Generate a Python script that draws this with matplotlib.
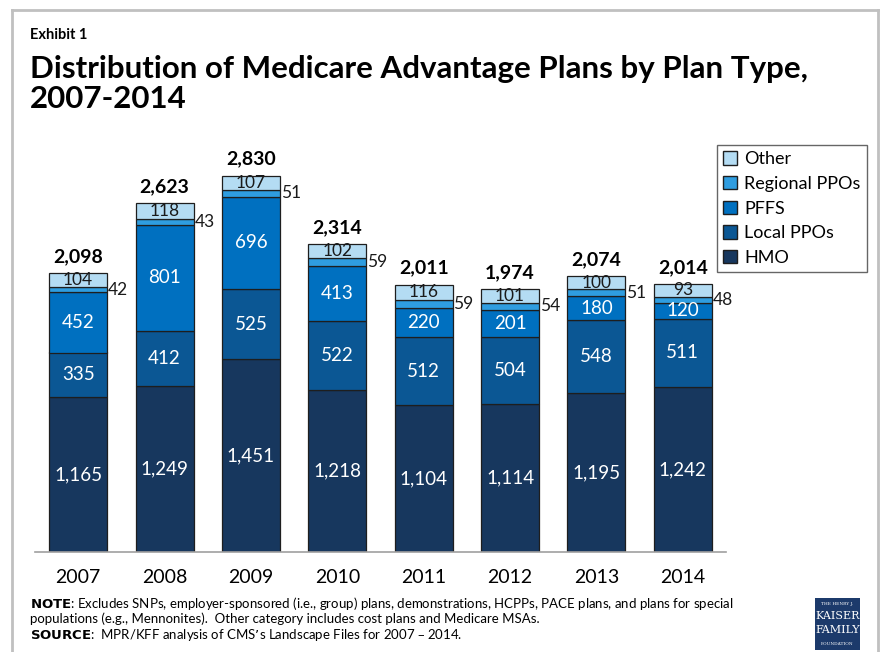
import matplotlib.pyplot as plt
from matplotlib.patches import Rectangle, Patch

plt.rcParams['font.family'] = ['Lato', 'DejaVu Sans']

years = ['2007', '2008', '2009', '2010', '2011', '2012', '2013', '2014']
hmo = [1165, 1249, 1451, 1218, 1104, 1114, 1195, 1242]
local_ppo = [335, 412, 525, 522, 512, 504, 548, 511]
pffs = [452, 801, 696, 413, 220, 201, 180, 120]
regional_ppo = [42, 43, 51, 59, 59, 54, 51, 48]
other = [104, 118, 107, 102, 116, 101, 100, 93]
totals = [2098, 2623, 2830, 2314, 2011, 1974, 2074, 2014]

series = [
    ('HMO', hmo, '#17375e'),
    ('Local PPOs', local_ppo, '#0b5794'),
    ('PFFS', pffs, '#0070c0'),
    ('Regional PPOs', regional_ppo, '#2f9de0'),
    ('Other', other, '#b4dcf3'),
]

W, H = 881, 652
fig = plt.figure(figsize=(W / 100, H / 100), dpi=100)

# slide frame
fig.add_artist(plt.Line2D([12 / W, 878 / W], [1 - 10 / H, 1 - 10 / H], color='#c0c0c0', lw=2))
fig.add_artist(plt.Line2D([12 / W, 12 / W], [0, 1 - 10 / H], color='#c0c0c0', lw=2))
fig.add_artist(plt.Line2D([878 / W, 878 / W], [0, 1 - 10 / H], color='#c0c0c0', lw=2))

fig.text(30 / W, 1 - 35 / H, 'Exhibit 1', fontsize=10.5, fontweight='bold', va='center')
fig.text(30 / W, 1 - 84 / H, 'Distribution of Medicare Advantage Plans by Plan Type,\n2007-2014',
         fontsize=22.5, fontweight='bold', va='center', linespacing=1.12)

ax = fig.add_axes([35 / W, 1 - 552 / H, (726 - 35) / W, (552 - 140) / H])
ax.set_xlim(-0.5, 7.5)
ax.set_ylim(0, 412 / 0.133)
for side in ['top', 'right', 'left']:
    ax.spines[side].set_visible(False)
ax.spines['bottom'].set_color('#a0a0a0')
ax.spines['bottom'].set_linewidth(1.2)
ax.set_yticks([])
ax.tick_params(axis='x', length=0, pad=12, labelsize=14)

x = list(range(len(years)))
bottom = [0] * len(years)
for name, vals, color in series:
    ax.bar(x, vals, width=0.672, bottom=bottom, color=color, edgecolor='#1e1e1e', linewidth=0.9)
    for i, v in enumerate(vals):
        mid = bottom[i] + v / 2
        if name == 'Regional PPOs':
            ax.text(i + 0.345, mid, f'{v:,}', ha='left', va='center', fontsize=12.5, color='#1a1a1a')
        elif name == 'Other':
            ax.text(i, mid, f'{v:,}', ha='center', va='center', fontsize=12.5, color='#1a1a1a')
        else:
            ax.text(i, mid, f'{v:,}', ha='center', va='center', fontsize=13.5, color='white')
    bottom = [b + v for b, v in zip(bottom, vals)]

for i, t in enumerate(totals):
    ax.text(i, t + 60, f'{t:,}', ha='center', va='bottom', fontsize=14, fontweight='bold')

ax.set_xticks(x)
ax.set_xticklabels(years)

handles = [Patch(facecolor=c, edgecolor='#1e1e1e', label=n) for n, _, c in reversed(series)]
leg = fig.legend(handles=handles, loc='upper left', bbox_to_anchor=(717 / W, 1 - 145 / H),
                 frameon=True, fancybox=False, edgecolor='#404040', fontsize=13,
                 handlelength=0.75, handleheight=0.75, handletextpad=0.4, labelspacing=0.48,
                 borderpad=0.35, borderaxespad=0)
leg.get_frame().set_linewidth(1.0)

fig.text(30 / W, 1 - 603 / H,
         r'$\bf{NOTE}$: Excludes SNPs, employer-sponsored (i.e., group) plans, demonstrations, HCPPs, PACE plans, and plans for special',
         fontsize=9.5, va='center')
fig.text(30 / W, 1 - 619 / H,
         'populations (e.g., Mennonites).  Other category includes cost plans and Medicare MSAs.',
         fontsize=9.5, va='center')
fig.text(30 / W, 1 - 635 / H,
         r'$\bf{SOURCE}$:  MPR/KFF analysis of CMS’s Landscape Files for 2007 – 2014.',
         fontsize=9.5, va='center')

# foundation logo
fig.add_artist(Rectangle((815 / W, 1 - 650 / H), 45 / W, 52 / H, transform=fig.transFigure,
                         facecolor='#1c3a6b', edgecolor='none'))
fig.text(837.5 / W, 1 - 604 / H, 'THE HENRY J.', fontsize=3.2, color='white', ha='center', va='center',
         family='DejaVu Serif')
fig.text(837.5 / W, 1 - 616 / H, 'KAISER', fontsize=8, color='white', ha='center', va='center',
         family='DejaVu Serif')
fig.text(837.5 / W, 1 - 630 / H, 'FAMILY', fontsize=8, color='white', ha='center', va='center',
         family='DejaVu Serif')
fig.text(837.5 / W, 1 - 644 / H, 'FOUNDATION', fontsize=3.2, color='white', ha='center', va='center',
         family='DejaVu Serif')

fig.savefig('out.png', dpi=100)
